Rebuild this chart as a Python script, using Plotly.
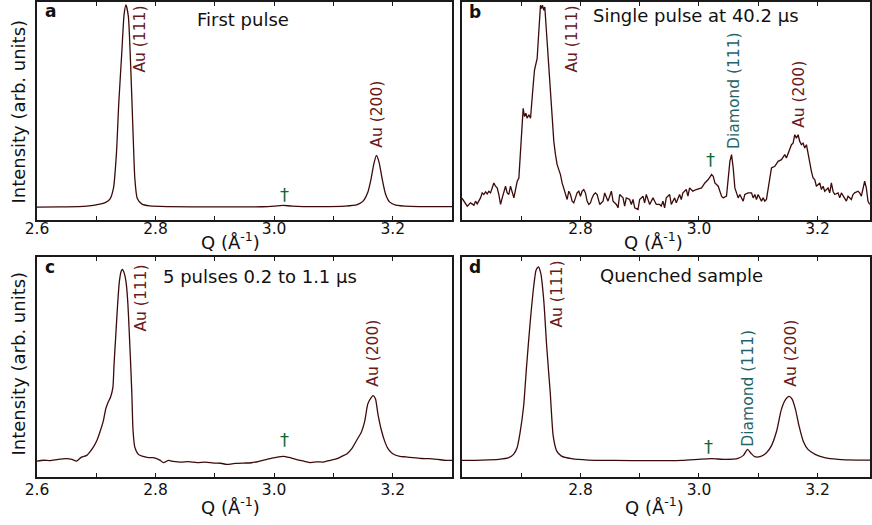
import plotly.graph_objects as go

# ---------------- data: scattering vector Q (1/Angstrom) vs intensity (arb. units) -------------
# (a) First pulse
q_a = [2.600, 2.640, 2.684, 2.706, 2.715, 2.723, 2.729, 2.734, 2.738, 2.743, 2.747, 2.750,
       2.754, 2.758, 2.762, 2.765, 2.769, 2.777, 2.790, 2.820, 2.900, 2.980, 3.000, 3.015,
       3.030, 3.080, 3.120, 3.140, 3.150, 3.158, 3.163, 3.168, 3.1725, 3.177, 3.182, 3.188,
       3.195, 3.205, 3.230, 3.300]
int_a = [13.0, 13.2, 14.0, 16.0, 17.5, 21.0, 32.0, 67.0, 118.0, 168.0, 207.0, 216.0,
         205.0, 155.0, 88.0, 42.0, 22.0, 16.0, 14.2, 13.5, 13.3, 13.4, 14.0, 14.8,
         14.0, 13.5, 14.0, 15.5, 19.0, 28.0, 40.0, 56.0, 65.0, 58.0, 42.0, 26.0,
         18.0, 15.0, 13.8, 13.5]

# (b) Single pulse at 40.2 us
q_b = [2.600, 2.6033, 2.6089, 2.6145, 2.6201, 2.6229, 2.6257, 2.6313, 2.6341, 2.6369,
       2.6398, 2.6426, 2.6454, 2.6482, 2.6510, 2.6538, 2.6566, 2.6594, 2.6622, 2.6651,
       2.6679, 2.6707, 2.6735, 2.6763, 2.6791, 2.6819, 2.6847, 2.6876, 2.6904, 2.6932,
       2.6960, 2.6988, 2.7016, 2.7033, 2.7055, 2.7078, 2.7100, 2.7129, 2.7157, 2.7185,
       2.7202, 2.7224, 2.7247, 2.7269, 2.7286, 2.7308, 2.7325, 2.7342, 2.7359, 2.7381,
       2.7398, 2.7415, 2.7437, 2.7465, 2.7494, 2.7522, 2.7550, 2.7578, 2.7606, 2.7634,
       2.7662, 2.7690, 2.7719, 2.7747, 2.7775, 2.7803, 2.7831, 2.7859, 2.7887, 2.7915,
       2.7943, 2.7972, 2.8000, 2.8028, 2.8056, 2.8084, 2.8112, 2.8140, 2.8168, 2.8196,
       2.8225, 2.8253, 2.8281, 2.8325, 2.8381, 2.8409, 2.8465, 2.8522, 2.8550, 2.8606,
       2.8634, 2.8662, 2.8718, 2.8746, 2.8774, 2.8830, 2.8859, 2.8887, 2.8915, 2.8971,
       2.8999, 2.9055, 2.9083, 2.9111, 2.9168, 2.9224, 2.9280, 2.9336, 2.9364, 2.9392,
       2.9420, 2.9448, 2.9505, 2.9533, 2.9589, 2.9617, 2.9673, 2.9701, 2.9729, 2.9786,
       2.9814, 2.9842, 2.9898, 2.9954, 3.0044, 3.0100, 3.0156, 3.0213, 3.0241, 3.0269,
       3.0325, 3.0381, 3.0409, 3.0465, 3.0494, 3.0522, 3.0550, 3.0578, 3.0606, 3.0634,
       3.0662, 3.0690, 3.0746, 3.0774, 3.0831, 3.0887, 3.0915, 3.0943, 3.0971, 3.0999,
       3.1055, 3.1083, 3.1111, 3.1139, 3.1168, 3.1196, 3.1224, 3.1280, 3.1336, 3.1392,
       3.1420, 3.1448, 3.1476, 3.1505, 3.1533, 3.1561, 3.1589, 3.1617, 3.1645, 3.1673,
       3.1701, 3.1729, 3.1757, 3.1785, 3.1814, 3.1842, 3.1870, 3.1898, 3.1926, 3.1954,
       3.1982, 3.2039, 3.2067, 3.2095, 3.2123, 3.2179, 3.2207, 3.2235, 3.2263, 3.2291,
       3.2348, 3.2376, 3.2404, 3.2460, 3.2488, 3.2516, 3.2572, 3.2600, 3.2628, 3.2685,
       3.2713, 3.2741, 3.2769, 3.2797, 3.2825, 3.2853, 3.2881]
int_b = [22.0, 19.0, 14.0, 17.3, 15.0, 19.0, 16.3, 22.3, 27.3, 25.7,
         28.3, 26.3, 29.0, 27.3, 31.7, 37.3, 34.0, 32.3, 25.7, 15.7,
         22.3, 29.0, 34.0, 27.3, 25.7, 34.0, 29.0, 22.3, 30.7, 39.0,
         42.3, 69.0, 92.3, 112.3, 104.0, 107.3, 102.3, 105.7, 102.3, 119.0,
         135.7, 150.7, 155.7, 162.3, 179.0, 202.3, 215.7, 212.3, 215.7, 210.7,
         214.0, 199.0, 179.0, 152.3, 122.3, 99.0, 79.0, 65.7, 55.7, 50.7,
         45.7, 37.3, 32.3, 25.7, 20.7, 29.0, 25.7, 19.0, 17.3, 22.3,
         27.3, 29.0, 24.0, 29.0, 30.7, 27.3, 19.0, 15.7, 17.3, 22.3,
         25.7, 27.3, 25.7, 15.7, 19.0, 27.3, 19.0, 29.0, 19.0, 15.7,
         12.3, 25.7, 22.3, 14.0, 22.3, 20.7, 15.7, 20.7, 12.3, 10.7,
         20.7, 24.0, 17.3, 25.7, 15.7, 22.3, 15.7, 15.7, 14.0, 19.0,
         12.3, 22.3, 25.7, 15.7, 22.3, 17.3, 25.7, 20.7, 27.3, 30.7,
         24.0, 32.3, 29.0, 30.7, 32.3, 37.3, 40.7, 45.7, 44.0, 37.3,
         34.0, 24.0, 22.3, 24.0, 39.0, 59.0, 65.7, 52.3, 32.3, 27.3,
         22.3, 25.7, 19.0, 25.7, 27.3, 27.3, 22.3, 25.7, 20.7, 25.7,
         19.0, 22.3, 19.0, 20.7, 32.3, 39.0, 52.3, 54.0, 59.0, 60.7,
         64.0, 65.7, 62.3, 67.3, 72.3, 75.7, 77.3, 85.7, 82.3, 85.7,
         79.0, 75.7, 77.3, 72.3, 75.7, 65.7, 55.7, 49.0, 42.3, 40.7,
         34.0, 37.3, 30.7, 34.0, 29.0, 32.3, 27.3, 37.3, 29.0, 25.7,
         27.3, 22.3, 27.3, 22.3, 19.0, 24.0, 20.7, 25.7, 27.3, 29.0,
         27.3, 24.0, 32.3, 39.0, 32.3, 19.0, 15.7]

# (c) 5 pulses 0.2 to 1.1 us
q_c = [2.600, 2.611, 2.622, 2.636, 2.650, 2.659, 2.667, 2.675, 2.684, 2.689, 2.695, 2.701,
       2.706, 2.712, 2.716, 2.720, 2.724, 2.728, 2.730, 2.733, 2.736, 2.739, 2.742, 2.744,
       2.747, 2.750, 2.753, 2.757, 2.760, 2.762, 2.765, 2.771, 2.779, 2.788, 2.796, 2.808,
       2.813, 2.822, 2.830, 2.842, 2.856, 2.870, 2.884, 2.898, 2.910, 2.920, 2.934, 2.948,
       2.962, 2.976, 2.993, 3.005, 3.016, 3.025, 3.033, 3.042, 3.050, 3.061, 3.072, 3.083,
       3.095, 3.106, 3.115, 3.123, 3.131, 3.139, 3.147, 3.153, 3.158, 3.164, 3.167, 3.171,
       3.175, 3.181, 3.187, 3.192, 3.200, 3.212, 3.222, 3.234, 3.248, 3.262, 3.276, 3.290,
       3.300]
int_c = [16.0, 16.8, 16.5, 17.8, 18.4, 17.6, 16.0, 20.0, 21.7, 25.0, 30.0, 36.7,
         45.0, 56.7, 68.4, 75.0, 80.0, 90.0, 113.4, 143.4, 173.4, 196.7, 206.7, 208.4,
         205.0, 196.7, 176.7, 126.7, 83.4, 46.7, 30.0, 22.7, 20.7, 19.4, 19.4, 16.7,
         14.4, 16.6, 15.7, 15.0, 15.4, 14.4, 14.9, 14.0, 13.8, 12.7, 13.6, 14.0,
         14.3, 16.0, 18.4, 20.0, 20.7, 19.6, 18.4, 17.0, 16.0, 14.4, 15.2, 15.0,
         16.8, 18.4, 21.0, 23.4, 28.5, 36.7, 45.0, 56.7, 73.4, 80.0, 81.7, 78.4,
         63.4, 46.7, 35.0, 28.4, 23.4, 20.7, 20.2, 19.4, 18.6, 18.4, 17.6, 16.7,
         16.7]

# (d) Quenched sample
q_d = [2.600, 2.634, 2.662, 2.679, 2.687, 2.693, 2.698, 2.704, 2.709, 2.715, 2.721, 2.725,
       2.729, 2.733, 2.738, 2.743, 2.749, 2.754, 2.760, 2.768, 2.785, 2.813, 2.858, 2.915,
       2.971, 2.999, 3.021, 3.044, 3.066, 3.075, 3.082, 3.088, 3.094, 3.103, 3.114, 3.122,
       3.131, 3.139, 3.146, 3.152, 3.157, 3.163, 3.169, 3.176, 3.184, 3.196, 3.212, 3.235,
       3.269, 3.300]
int_d = [16.7, 17.0, 17.7, 19.4, 22.7, 29.4, 44.4, 71.0, 111.0, 154.4, 191.0, 207.7,
         211.0, 204.4, 177.7, 131.0, 84.4, 41.0, 26.0, 21.0, 18.4, 17.0, 16.7, 16.4,
         16.7, 17.7, 18.4, 17.7, 18.7, 21.7, 27.7, 23.7, 20.4, 20.4, 24.4, 31.0,
         46.0, 67.7, 77.7, 81.0, 78.4, 67.7, 51.0, 36.0, 27.7, 22.7, 19.4, 17.7,
         17.0, 17.0]

# labelled (major) ticks; unlabelled ticks every 0.1 are drawn as minor ticks
ticks_left = [2.6, 2.8, 3.0, 3.2]
ticks_right = [2.8, 3.0, 3.2]

panel_letters = ["a", "b", "c", "d"]
panel_titles = ["First pulse", "Single pulse at 40.2 µs", "5 pulses 0.2 to 1.1 µs", "Quenched sample"]

LINE = "#3d0a0a"
AU = "#6a1a1a"
DIA = "#1f6468"
DAG = "#0c6a34"
FONT = "DejaVu Sans"

# ---------------- layout geometry (pixels) ----------------
W, H = 872, 525
ML, MR, MT, MB = 37, 0, 0, 48
PW, PH = W - ML - MR, H - MT - MB


def px(x):
    return (x - ML) / PW


def py(y):
    return (MT + PH - y) / PH


fig = go.Figure()
series = [(q_a, int_a, "spline"), (q_b, int_b, "linear"), (q_c, int_c, "spline"), (q_d, int_d, "spline")]
for i, (q, inten, shape) in enumerate(series):
    sfx = "" if i == 0 else str(i + 1)
    fig.add_trace(go.Scatter(
        x=q, y=inten, mode="lines",
        line=dict(color=LINE, width=1.3, shape=shape, smoothing=0.6 if shape == "spline" else None),
        xaxis="x" + sfx, yaxis="y" + sfx, showlegend=False, hoverinfo="skip"))

x_left = [0, px(453)]
x_right = [px(463), 1]
y_top = [py(219), 1]
y_bot = [0, py(256)]

axis_common = dict(showline=True, linecolor="#1a1a1a", linewidth=1.5, mirror="ticks",
                   ticks="inside", ticklen=4, tickwidth=1, tickcolor="#1a1a1a",
                   minor=dict(ticks="inside", ticklen=4, tickwidth=1, tickcolor="#1a1a1a",
                              tick0=2.6, dtick=0.1, showgrid=False),
                   showgrid=False, zeroline=False,
                   tickfont=dict(family=FONT, size=15.5, color="#111"))
yaxis_common = dict(showline=True, linecolor="#1a1a1a", linewidth=1.5, mirror=True,
                    ticks="", showticklabels=False, showgrid=False, zeroline=False)

right_range = [2.6, 2.6 + (W - 463.4) / 593.3]
layout = dict(
    width=W, height=H, margin=dict(l=ML, r=MR, t=MT, b=MB),
    paper_bgcolor="white", plot_bgcolor="white",
    font=dict(family=FONT, color="#111"),
    xaxis=dict(axis_common, domain=x_left, range=[2.6, 3.3], tickvals=ticks_left,
               ticktext=[f"{v:.1f}" for v in ticks_left], ticklabelstandoff=-6, anchor="y"),
    yaxis=dict(yaxis_common, domain=y_top, range=[0, 219], anchor="x"),
    xaxis2=dict(axis_common, domain=x_right, range=right_range, tickvals=ticks_right,
                ticktext=[f"{v:.1f}" for v in ticks_right], ticklabelstandoff=-6, anchor="y2"),
    yaxis2=dict(yaxis_common, domain=y_top, range=[0, 219], anchor="x2"),
    xaxis3=dict(axis_common, domain=x_left, range=[2.6, 3.3], tickvals=ticks_left,
                ticktext=[f"{v:.1f}" for v in ticks_left], ticklabelstandoff=-2, anchor="y3"),
    yaxis3=dict(yaxis_common, domain=y_bot, range=[0, 221], anchor="x3"),
    xaxis4=dict(axis_common, domain=x_right, range=right_range, tickvals=ticks_right,
                ticktext=[f"{v:.1f}" for v in ticks_right], ticklabelstandoff=-2, anchor="y4"),
    yaxis4=dict(yaxis_common, domain=y_bot, range=[0, 221], anchor="x4"),
)
fig.update_layout(**layout)

ann = []


def text(x, y, s, size=18, color="#111", angle=0, xanchor="center", bold=False):
    if bold:
        s = "<b>" + s + "</b>"
    ann.append(dict(x=px(x), y=py(y), xref="paper", yref="paper", text=s, showarrow=False,
                    textangle=angle, xanchor=xanchor, yanchor="middle",
                    font=dict(family=FONT, size=size, color=color)))


# panel letters and titles
letter_pos = [(43, 9), (468, 10), (43, 266), (468, 266)]
title_pos = [(195, 18), (592, 14), (161, 276), (599, 275)]
for (lx, ly), letter, (tx, ty), title in zip(letter_pos, panel_letters, title_pos, panel_titles):
    text(lx, ly, letter, size=17, xanchor="left", bold=True)
    text(tx, ty, title, size=18, xanchor="left")

# axis titles
for cx, cy in [(231, 240), (655, 240), (231, 506), (656, 506)]:
    text(cx, cy, "Q (Å<sup>-1</sup>)", size=18)
for cy in [110, 363]:
    text(18, cy, "Intensity (arb. units)", size=18, angle=-90)

# peak labels
peak_labels = [
    (140, 37, "Au (111)", AU), (377, 113, "Au (200)", AU), (285, 193, "†", DAG),
    (573, 37, "Au (111)", AU), (735, 89, "Diamond (111)", DIA), (800, 93, "Au (200)", AU), (712, 158, "†", DAG),
    (141, 297, "Au (111)", AU), (373, 353, "Au (200)", AU), (285, 439, "†", DAG),
    (558, 293, "Au (111)", AU), (750, 388, "Diamond (111)", DIA), (792, 353, "Au (200)", AU), (710, 446, "†", DAG),
]
for x, y, s, c in peak_labels:
    if s == "†":
        text(x, y, s, size=18, color=c)
    else:
        text(x, y, s, size=15.5, color=c, angle=-90)

fig.update_layout(annotations=ann)
fig.write_html("out.html")
